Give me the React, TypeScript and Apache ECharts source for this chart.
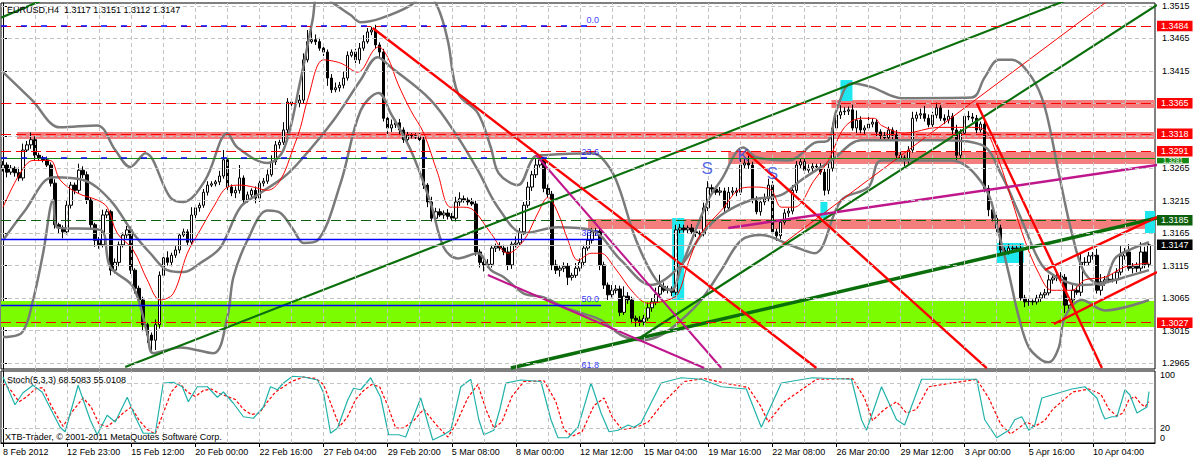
import React, { useEffect, useRef } from "react";
import * as echarts from "echarts";

const FONT = "'Liberation Sans', Arial, sans-serif";
const FS = 9;

const timeLabels = ["8 Feb 2012", "12 Feb 23:00", "15 Feb 12:00", "20 Feb 00:00", "22 Feb 16:00", "27 Feb 04:00", "29 Feb 20:00", "5 Mar 08:00", "8 Mar 00:00", "12 Mar 12:00", "15 Mar 04:00", "19 Mar 16:00", "22 Mar 08:00", "26 Mar 20:00", "29 Mar 12:00", "3 Apr 00:00", "5 Apr 16:00", "10 Apr 04:00"];
const priceTicks = [1.2965, 1.3015, 1.3065, 1.3115, 1.3165, 1.3215, 1.3265, 1.3315, 1.3365, 1.3415, 1.3465, 1.3515];

// prices in 1/10000 units
const firstOpen = 13265;
const closes = [
  13270, 13259, 13265, 13258, 13250, 13293, 13301, 13309, 13285, 13281,
  13278, 13270, 13242, 13178, 13173, 13167, 13208, 13239, 13231, 13262,
  13255, 13216, 13178, 13154, 13147, 13193, 13198, 13108, 13120, 13147,
  13162, 13170, 13108, 13080, 13062, 13024, 13008, 13000, 13024, 13100,
  13127, 13120, 13131, 13139, 13162, 13167, 13151, 13193, 13204, 13208,
  13228, 13239, 13241, 13244, 13253, 13278, 13236, 13227, 13231, 13250,
  13216, 13224, 13231, 13219, 13242, 13245, 13255, 13275, 13301, 13305,
  13324, 13367, 13364, 13365, 13370, 13432, 13460, 13463, 13460, 13450,
  13444, 13404, 13386, 13389, 13393, 13404, 13439, 13444, 13432, 13450,
  13460, 13475, 13478, 13455, 13444, 13342, 13327, 13332, 13335, 13324,
  13309, 13316, 13315, 13313, 13309, 13239, 13213, 13188, 13198, 13193,
  13196, 13191, 13188, 13213, 13218, 13216, 13213, 13210, 13136, 13120,
  13116, 13117, 13142, 13145, 13142, 13136, 13116, 13148, 13150, 13167,
  13208, 13236, 13255, 13270, 13278, 13234, 13225, 13116, 13108, 13111,
  13114, 13097, 13100, 13111, 13120, 13142, 13154, 13167, 13168, 13116,
  13085, 13070, 13077, 13079, 13043, 13068, 13062, 13034, 13031, 13028,
  13034, 13050, 13059, 13071, 13083, 13077, 13079, 13074, 13170, 13173,
  13170, 13173, 13167, 13165, 13164, 13204, 13235, 13233, 13228, 13230,
  13204, 13228, 13230, 13228, 13270, 13273, 13270, 13216, 13198, 13213,
  13218, 13239, 13167, 13161, 13182, 13196, 13199, 13231, 13270, 13275,
  13262, 13265, 13268, 13267, 13259, 13231, 13265, 13327, 13347, 13352,
  13353, 13355, 13327, 13339, 13324, 13327, 13333, 13336, 13321, 13315,
  13312, 13324, 13316, 13285, 13281, 13278, 13293, 13342, 13347, 13349,
  13342, 13332, 13347, 13358, 13342, 13339, 13345, 13324, 13285, 13319,
  13345, 13344, 13342, 13324, 13333, 13234, 13201, 13188, 13173, 13139,
  13136, 13142, 13141, 13142, 13065, 13059, 13060, 13059, 13065, 13070,
  13073, 13093, 13096, 13099, 13097, 13054, 13062, 13077, 13074, 13120,
  13120, 13130, 13131, 13077, 13090, 13093, 13094, 13093, 13105, 13130,
  13136, 13111, 13114, 13111, 13136, 13117, 13147,
];
const upWick = [
  6, 4, 5, 3, 8, 10, 6, 11, 5, 4, 3, 5, 4, 6, 3, 4, 8, 5, 4, 10,
  6, 5, 4, 3, 5, 8, 4, 3, 6, 5, 4, 6, 5, 3, 4, 5, 3, 4, 8, 6,
  5, 10, 4, 6, 3, 5, 4, 12, 5, 4, 5, 6, 4, 3, 8, 15, 5, 4, 6, 20,
  4, 5, 3, 6, 4, 5, 8, 10, 6, 4, 12, 6, 5, 4, 8, 10, 18, 20, 8, 6,
  5, 4, 6, 8, 5, 10, 6, 4, 5, 8, 10, 6, 5, 8, 4, 5, 6, 8, 5, 6,
  4, 5, 3, 4, 6, 5, 3, 8, 6, 5, 4, 6, 5, 8, 10, 5, 4, 6, 5, 4,
  6, 8, 5, 4, 6, 5, 8, 4, 10, 6, 5, 8, 6, 10, 5, 4, 6, 5, 8, 4,
  6, 5, 4, 8, 6, 5, 12, 6, 5, 4, 5, 4, 8, 6, 5, 15, 6, 5, 4, 6,
  5, 8, 6, 10, 18, 6, 5, 4, 8, 6, 5, 4, 6, 5, 4, 8, 10, 5, 4, 6,
  5, 8, 6, 5, 10, 6, 12, 5, 6, 4, 8, 10, 6, 5, 4, 6, 5, 8, 6, 5,
  4, 6, 5, 4, 6, 5, 10, 8, 12, 10, 6, 5, 8, 15, 6, 4, 12, 6, 5, 4,
  6, 5, 4, 8, 5, 4, 6, 10, 5, 8, 12, 6, 5, 8, 4, 6, 10, 5, 8, 6,
  5, 8, 6, 5, 4, 6, 5, 4, 6, 5, 4, 6, 5, 4, 6, 5, 4, 3, 5, 4,
  6, 8, 5, 4, 6, 5, 4, 8, 6, 15, 8, 6, 5, 10, 12, 6, 5, 8, 6, 15,
  6, 12, 5, 6, 15, 8, 4,
];
const dnWick = [
  5, 8, 4, 6, 5, 4, 3, 6, 8, 5, 4, 3, 5, 6, 8, 10, 4, 5, 6, 4,
  5, 6, 8, 10, 6, 4, 5, 8, 5, 6, 4, 5, 6, 8, 5, 10, 12, 20, 15, 6,
  4, 5, 6, 4, 5, 3, 6, 4, 5, 6, 4, 5, 3, 4, 5, 4, 6, 5, 8, 5,
  6, 4, 5, 8, 6, 5, 4, 3, 5, 6, 4, 5, 3, 4, 6, 5, 4, 3, 5, 4,
  6, 12, 5, 4, 6, 5, 4, 3, 5, 6, 4, 3, 5, 6, 8, 5, 12, 6, 5, 8,
  5, 6, 4, 3, 5, 6, 8, 5, 4, 3, 6, 5, 4, 5, 6, 4, 5, 3, 6, 8,
  10, 4, 5, 6, 4, 5, 8, 6, 5, 4, 5, 4, 6, 5, 4, 6, 5, 8, 6, 10,
  6, 12, 5, 4, 5, 6, 4, 5, 6, 8, 6, 8, 4, 5, 6, 4, 6, 8, 10, 6,
  5, 4, 6, 5, 4, 3, 5, 6, 4, 5, 4, 5, 3, 6, 5, 4, 5, 6, 4, 5,
  8, 4, 5, 6, 4, 5, 6, 5, 4, 6, 5, 4, 6, 8, 5, 4, 6, 5, 4, 6,
  5, 4, 6, 5, 4, 8, 6, 5, 4, 6, 5, 6, 4, 8, 5, 6, 4, 5, 8, 6,
  4, 5, 6, 8, 5, 10, 6, 4, 5, 6, 5, 4, 6, 5, 4, 6, 5, 8, 10, 6,
  4, 5, 6, 5, 4, 6, 10, 5, 6, 8, 5, 4, 6, 5, 4, 8, 6, 5, 4, 6,
  5, 4, 6, 5, 8, 12, 6, 5, 4, 6, 5, 4, 6, 5, 8, 6, 5, 4, 6, 5,
  6, 4, 8, 6, 5, 6, 5,
];

// Bollinger bands & moving average, [bar, price/10000]
const bbUpper = [[0, 13413], [7.25, 13370], [14.25, 13328], [23.5, 13331], [28, 13293], [31.75, 13267], [35.5, 13288], [41.75, 13220], [45, 13213], [50.5, 13247], [56, 13319], [58.5, 13297], [66, 13273], [70, 13293], [74.25, 13401], [77.25, 13493], [78.75, 13536], [82.5, 13519], [86.75, 13501], [89.25, 13490], [94.25, 13496], [101.75, 13516], [105.5, 13536], [108.5, 13513], [111, 13462], [113.5, 13381], [118.5, 13350], [121.75, 13297], [123.75, 13257], [128.5, 13239], [132.5, 13282], [135, 13285], [146.75, 13288], [149.25, 13282], [153, 13247], [158, 13154], [163, 13093], [166.75, 13077], [169.25, 13113], [176, 13216], [179.25, 13247], [184.75, 13297], [188, 13282], [196, 13277], [202.5, 13304], [206, 13308], [208, 13354], [211.75, 13396], [216.75, 13390], [224.25, 13373], [241.75, 13374], [245, 13405], [248.5, 13432], [251.75, 13432], [256.75, 13405], [260, 13359], [263.5, 13257], [266.75, 13165], [270, 13103], [274.25, 13085], [277.5, 13126], [281, 13139], [286, 13151]];
const bbMiddle = [[0, 13154], [5.5, 13200], [12.5, 13251], [20, 13247], [26.75, 13216], [32.5, 13165], [36.75, 13134], [41, 13108], [45, 13105], [49.25, 13119], [54.25, 13143], [59.25, 13205], [64.25, 13227], [70, 13251], [74.25, 13277], [82.5, 13339], [89.25, 13401], [93.5, 13436], [96.75, 13421], [106.75, 13370], [113.5, 13313], [118.5, 13262], [123.5, 13205], [130, 13165], [138.5, 13174], [146.75, 13170], [154.25, 13123], [161.75, 13085], [169.25, 13116], [174.25, 13162], [179.25, 13193], [186.75, 13216], [194.25, 13224], [199.25, 13247], [206.75, 13277], [214.25, 13308], [224.25, 13308], [234.25, 13308], [244.25, 13301], [249.25, 13254], [254.25, 13185], [259.25, 13116], [264.25, 13093], [269.25, 13085], [274.25, 13088], [279.25, 13096], [286, 13108]];
const bbLower = [[0, 13005], [4.75, 13012], [7.5, 13062], [10, 13134], [12.5, 13216], [13.5, 13174], [24.25, 13170], [26.75, 13113], [32.5, 13082], [36, 13011], [37.5, 12980], [44.25, 12989], [52.5, 12980], [56, 13036], [57.5, 13097], [61, 13154], [66, 13200], [69.25, 13196], [72.5, 13170], [75, 13150], [78.5, 13154], [84.25, 13242], [89.25, 13354], [93.75, 13381], [96.75, 13350], [101.75, 13293], [106.75, 13211], [110, 13143], [113.5, 13126], [118.5, 13134], [121.75, 13108], [125, 13097], [130, 13072], [135, 13066], [140, 13051], [144.25, 13042], [149.25, 13031], [154.25, 13008], [159.25, 13000], [164.25, 13008], [169.25, 13031], [174.25, 13062], [179.25, 13108], [184.25, 13154], [189.25, 13162], [196.75, 13146], [202.5, 13134], [209.25, 13216], [216, 13236], [219.25, 13277], [236.75, 13277], [245, 13236], [248.5, 13165], [251, 13103], [253.5, 13036], [256, 12989], [259.25, 12969], [261, 12966], [263.5, 12989], [265, 13036], [269.25, 13062], [275, 13046], [286, 13062]];
const maLine = [[0, 13205], [4.25, 13257], [7.5, 13277], [11.75, 13277], [14.25, 13247], [18.5, 13227], [23.5, 13216], [26, 13205], [28.5, 13165], [32.5, 13139], [36, 13093], [39.25, 13062], [42.5, 13072], [46, 13134], [49.25, 13170], [52.5, 13205], [56, 13236], [59.25, 13239], [62.5, 13236], [66, 13231], [69.25, 13247], [72.5, 13297], [74.25, 13328], [76, 13370], [80, 13432], [84.25, 13427], [88.5, 13413], [92.5, 13447], [93.75, 13452], [96, 13436], [98.5, 13396], [101.75, 13354], [105, 13319], [108.5, 13257], [111.75, 13205], [115, 13205], [117.5, 13200], [121.75, 13165], [126, 13134], [130, 13154], [133.5, 13196], [136, 13220], [138.5, 13196], [141, 13154], [143.5, 13123], [146.75, 13134], [149.25, 13134], [152.5, 13113], [157.5, 13072], [161, 13057], [166, 13062], [168.5, 13072], [171, 13119], [174.25, 13165], [179.25, 13200], [184.25, 13234], [187.5, 13236], [191.75, 13231], [194.25, 13205], [197.5, 13205], [202.5, 13247], [206, 13277], [210, 13328], [214.25, 13342], [217.5, 13342], [219.25, 13331], [225, 13319], [233.5, 13328], [241.75, 13328], [245, 13324], [248.5, 13277], [251.75, 13216], [255, 13154], [258.5, 13103], [261.75, 13077], [266.75, 13077], [270, 13093], [275, 13097], [280, 13113], [286, 13119]];

// Horizontal levels, zones and drawn objects (prices)
const levelPrices = [1.3484, 1.3365, 1.3318, 1.3281, 1.3291, 1.3185, 1.3147, 1.3027];
const pinkZones = [[206.75, 1.33701, 1.33578], [3.5, 1.33208, 1.331], [181, 1.329, 1.32715], [146, 1.31868, 1.31714]];
const greenZone = [-0.5, 287.25, 1.30604, 1.30204];
const cyanBoxes = [[167, 170, 1.31883, 1.3062], [209, 212, 1.34009, 1.33686], [204, 205.75, 1.3213, 1.31883], [248, 254.75, 1.31498, 1.3119], [285, 288, 1.31991, 1.31652]];
const fibHigh = 1.3484;
const fibLow = 1.2624;
const fibEnd = 149.25;
const fibLevels = [0, 23.6, 38.2, 50.0, 61.8];
const greenLines = [[[30.5, 1.29587], [268.75, 1.35319]], [[-0.5, 1.3497], [10.5, 1.35257]], [[126.75, 1.29572], [288, 1.31883]], [[159.25, 1.3005], [288, 1.35165]]];
const redLines = [[[92.25, 1.34811], [203, 1.29572]], [[185.5, 1.329], [245.5, 1.29572]], [[243, 1.33655], [274.25, 1.29572]], [[260, 1.31082], [288, 1.31898]], [[262.25, 1.3025], [288, 1.31051]], [[194.25, 1.31467], [275, 1.35196]]];
const magentaLines = [[[133, 1.32854], [179.25, 1.29572]], [[121, 1.31005], [175, 1.29572]], [[181, 1.31729], [288, 1.327]]];
const waveMarks = [[175.75, 1.32653, "S"], [184.75, 1.32854, "K"], [192, 1.32576, "S"]];

// Stochastic (5,3,3): [bar, value]
const stochK = [[0, 88], [3, 51], [5, 67], [7.5, 77], [9.75, 68], [14.25, 21], [15.5, 15], [18.75, 77], [21.75, 31], [23.5, 11], [26, 37], [28, 28], [31, 61], [33, 35], [35, 13], [38, 13], [40, 80], [42.5, 81], [44.75, 75], [46.25, 55], [48.5, 75], [51, 75], [53.5, 61], [55, 68], [57.5, 53], [60, 35], [62.5, 33], [65, 48], [66.75, 75], [68.5, 71], [70, 80], [72.25, 89], [75, 88], [78.5, 84], [80, 67], [81.75, 13], [83.5, 20], [86, 57], [87.5, 73], [89.25, 71], [91.75, 87], [94.25, 61], [96.25, 11], [98.75, 11], [100.5, 8], [104.25, 60], [107.25, 4], [110, 11], [111.75, 17], [114.25, 75], [116.75, 85], [118.75, 31], [120, 11], [122.5, 17], [124, 45], [125.5, 80], [129.25, 84], [134.25, 82], [136.75, 31], [138.5, 7], [141, 7], [143.5, 21], [146.75, 80], [149.25, 40], [151.25, 15], [153.5, 17], [156, 24], [157.5, 21], [159.25, 27], [164.25, 80], [169.25, 87], [174.25, 85], [179.25, 75], [185.5, 72], [188.5, 31], [189.25, 21], [194.25, 80], [202, 87], [211.75, 85], [214.25, 31], [215.5, 17], [219.25, 75], [223, 31], [225, 24], [229.25, 85], [243, 85], [245, 31], [248, 7], [251, 17], [252.5, 31], [254.25, 35], [256, 17], [257.5, 24], [259.25, 60], [266.75, 72], [270, 75], [273, 60], [274.25, 41], [275, 32], [276.75, 35], [278, 35], [279.25, 57], [280, 71], [281.25, 64], [283, 40], [284.25, 44], [285.5, 48], [286, 68.5083]];
const stochD = [[0, 80], [2, 70], [4, 55], [6, 62], [8, 72], [10, 74], [12, 50], [15, 22], [17, 40], [20, 60], [22, 48], [24, 25], [26, 22], [28, 30], [30, 40], [32, 48], [34, 30], [36, 18], [38, 12], [40, 40], [42, 68], [44, 80], [46, 68], [48, 62], [50, 70], [52, 72], [54, 66], [56, 62], [58, 58], [60, 45], [62, 38], [64, 40], [66, 55], [68, 68], [70, 75], [72, 82], [75, 88], [78, 86], [80, 78], [82, 50], [84, 22], [86, 35], [88, 58], [90, 70], [92, 78], [94, 75], [96, 50], [98, 20], [100, 20], [102.5, 30], [105, 45], [108, 25], [111, 8], [113, 25], [116, 60], [118.5, 78], [120.5, 45], [122.5, 20], [124.5, 28], [127, 62], [130, 82], [135, 83], [138, 55], [140, 18], [142, 9], [144.5, 15], [147.5, 50], [150, 60], [152, 35], [154.5, 18], [157, 20], [159, 23], [161, 28], [165, 55], [170, 82], [175, 86], [180, 80], [186, 74], [189, 50], [191, 28], [195, 55], [203, 85], [212, 86], [215, 60], [217, 30], [220, 45], [223, 55], [225.5, 40], [228, 45], [231, 75], [243, 85], [246, 60], [249, 25], [251.5, 12], [253.5, 20], [255.5, 28], [257.5, 22], [260, 30], [262, 45], [267, 68], [271, 72], [274, 65], [276, 45], [278, 36], [279.5, 40], [281, 58], [282.5, 62], [284, 52], [285, 48], [286, 55.0108]];
const stochLevels = [20, 80];
const stochTickLabels = [0, 20, 80, 100];

const NCAT = 288;
const Y_MIN = 1.29557;
const Y_MAX = 1.35196;
const S_MAX = 96;

const px = (v: number) => v / 10000;
const toPts = (arr: number[][]) => arr.map(([i, v]) => [i, px(v)]);

export default function App() {
  const ref = useRef<HTMLDivElement>(null);
  useEffect(() => {
    document.body.style.margin = "0";
    const chart = echarts.init(ref.current!, null, { renderer: "svg" });

    const categories = Array.from({ length: NCAT }, (_, i) => (i % 16 === 0 && timeLabels[i / 16]) ? timeLabels[i / 16] : "");
    const candles = closes.map((c, i) => {
      const o = i === 0 ? firstOpen : closes[i - 1];
      const hi = Math.max(o, c) + upWick[i];
      const lo = Math.min(o, c) - dnWick[i];
      return [px(o), px(c), px(lo), px(hi)];
    });
    const last = candles[candles.length - 1];
    const lastK = stochK[stochK.length - 1][1];
    const lastD = stochD[stochD.length - 1][1];

    const gridLineStyle = { color: "#c4c4c4", type: [4, 3], width: 1 };
    const verticals = [];
    for (let k = 8; k < NCAT; k += 8) verticals.push({ xAxis: k });

    const levelStyles = [
      { c: "#ff0000", t: [10, 5], bg: "#ff0000" },
      { c: "#ff0000", t: [10, 5], bg: "#ff0000" },
      { c: "#ff0000", t: [10, 5], bg: "#ff0000" },
      { c: "#118811", t: "solid", bg: "#118811" },
      { c: "#ff0000", t: [10, 5], bg: "#ff0000" },
      { c: "#0d600d", t: [10, 5], bg: "#0d600d" },
      { c: "#b4b4b4", t: "solid", bg: "#000000" },
      { c: "#ff0000", t: [10, 5], bg: "#ff0000" },
    ];

    const fibPrice = (l: number) => fibHigh - (fibHigh - fibLow) * l / 100;

    const lineSeries = (pts: number[][], color: string, width: number, z: number) => ({
      type: "line", xAxisIndex: 1, yAxisIndex: 0, data: pts, symbol: "none", silent: true,
      lineStyle: { color, width }, z, animation: false,
    });
    const txt = { fontSize: FS, color: "#000", fontFamily: FONT };

    const levelLabel = (p: number, k: number) => {
      const base: any = {
        show: true, position: "end", distance: 2, formatter: p.toFixed(4),
        backgroundColor: levelStyles[k].bg, color: "#ffffff", fontFamily: FONT,
      };
      if (k === 3) {
        // the 1.3281 tag peeks out just below the 1.3291 tag
        return { ...base, fontSize: 6.5, lineHeight: 5.5, padding: [0, 6, 0, 6], verticalAlign: "top" };
      }
      return { ...base, fontSize: FS, lineHeight: 9.5, padding: [1, 4, 0, 4] };
    };

    const series: any[] = [
      {
        type: "line", xAxisIndex: 1, yAxisIndex: 0, data: [], z: 0, silent: true,
        markLine: {
          silent: true, symbol: ["none", "none"], animation: false, label: { show: false }, precision: 6,
          lineStyle: gridLineStyle,
          data: [...priceTicks.map((v) => ({ yAxis: v })), ...verticals],
        },
      },
      {
        type: "line", xAxisIndex: 1, yAxisIndex: 0, data: [], z: 1, silent: true,
        markArea: {
          silent: true, animation: false,
          data: [
            [{ xAxis: greenZone[0], yAxis: greenZone[2], itemStyle: { color: "#7cfc00", opacity: 1 } }, { xAxis: greenZone[1], yAxis: greenZone[3] }],
            ...pinkZones.map((z) => [{ xAxis: z[0], yAxis: z[1], itemStyle: { color: "#f47e7e", opacity: 1 } }, { xAxis: 287.5, yAxis: z[2] }]),
            ...cyanBoxes.map((b) => [{ xAxis: b[0], yAxis: b[2], itemStyle: { color: "#1ee8ee", opacity: 1 } }, { xAxis: b[1], yAxis: b[3] }]),
          ],
        },
      },
      {
        type: "candlestick", xAxisIndex: 0, yAxisIndex: 0, data: candles, barWidth: 3, z: 2, silent: true,
        itemStyle: { color: "#ffffff", color0: "#000000", borderColor: "#000000", borderColor0: "#000000", borderWidth: 1 },
      },
      { ...lineSeries(toPts(bbUpper), "#7a7a7a", 2.5, 3), smooth: 0.35 },
      { ...lineSeries(toPts(bbMiddle), "#7a7a7a", 2.5, 3), smooth: 0.35 },
      { ...lineSeries(toPts(bbLower), "#7a7a7a", 2.5, 3), smooth: 0.35 },
      { ...lineSeries(toPts(maLine), "#ff0000", 1, 3), smooth: 0.35 },
      {
        type: "line", xAxisIndex: 1, yAxisIndex: 0, data: [], z: 4, silent: true,
        markLine: {
          silent: true, symbol: ["none", "none"], animation: false, precision: 6,
          data: levelPrices.map((p, k) => ({
            yAxis: p,
            lineStyle: { color: levelStyles[k].c, type: levelStyles[k].t, width: 1.2 },
            label: levelLabel(p, k),
          })),
        },
      },
      {
        type: "line", xAxisIndex: 1, yAxisIndex: 0, data: [], z: 4, silent: true,
        markLine: {
          silent: true, symbol: ["none", "none"], animation: false, label: { show: false }, precision: 6,
          data: fibLevels.map((l, k) => [
            { coord: [-0.5, fibPrice(l)], lineStyle: { color: "#0000ff", width: k < 2 ? 1.5 : 1.3, type: k < 2 ? [6, 14] : "solid" } },
            { coord: [fibEnd, fibPrice(l)] },
          ]),
        },
      },
      {
        type: "scatter", xAxisIndex: 1, yAxisIndex: 0, z: 5, silent: true, clip: false, symbolSize: 2,
        itemStyle: { color: "rgba(0,0,0,0)" },
        data: fibLevels.map((l) => [fibEnd, fibPrice(l), l.toFixed(1)]),
        label: { show: true, position: "left", distance: 1, offset: [0, -6], color: "#0000ff", fontSize: FS, fontFamily: FONT, formatter: (p: any) => p.data[2] },
      },
      ...greenLines.map((l, k) => lineSeries(l, "#0a6e0a", k === 2 ? 3.5 : 2.2, 4)),
      ...redLines.map((l, k) => lineSeries(l, "#ff0000", k === 5 ? 1 : 2.4, 4)),
      ...magentaLines.map((l, k) => lineSeries(l, "#c0168c", k === 2 ? 2.5 : 2, 4)),
      {
        type: "scatter", xAxisIndex: 1, yAxisIndex: 0, z: 5, silent: true, symbolSize: 2,
        itemStyle: { color: "rgba(0,0,0,0)" },
        data: waveMarks,
        label: { show: true, position: "inside", color: "#2a44dd", fontSize: 17, fontFamily: FONT, formatter: (p: any) => p.data[2] },
      },
      {
        type: "line", xAxisIndex: 3, yAxisIndex: 1, data: [], z: 0, silent: true,
        markLine: {
          silent: true, symbol: ["none", "none"], animation: false, label: { show: false },
          lineStyle: gridLineStyle,
          data: [...stochLevels.map((v) => ({ yAxis: v })), ...verticals],
        },
      },
      {
        type: "line", xAxisIndex: 3, yAxisIndex: 1, data: stochD, symbol: "none", silent: true, z: 3,
        lineStyle: { color: "#ff0000", width: 1.2, type: [3, 2] },
      },
      {
        type: "line", xAxisIndex: 3, yAxisIndex: 1, data: stochK, symbol: "none", silent: true, z: 4,
        lineStyle: { color: "#20b2aa", width: 1.2 },
      },
    ];

    const sLabelVals = [0.5, 20, 80, S_MAX - 0.5];
    const option: any = {
      animation: false,
      backgroundColor: "#ffffff",
      textStyle: { fontFamily: FONT },
      title: [
        { text: `EURUSD,H4  ${last[0].toFixed(4)} ${last[3].toFixed(4)} ${last[2].toFixed(4)} ${last[1].toFixed(4)}`, left: 7, top: 5, padding: 0, textStyle: { ...txt, fontWeight: "normal" } },
        { text: `Stoch(5,3,3) ${lastK.toFixed(4)} ${lastD.toFixed(4)}`, left: 7, top: 375, padding: 0, textStyle: { ...txt, fontWeight: "normal" } },
        { text: "XTB-Trader, © 2001-2011 MetaQuotes Software Corp.", left: 5, top: 432, padding: 0, textStyle: { ...txt, fontWeight: "normal" } },
      ],
      grid: [
        { left: 1, top: 3, width: 1154, height: 366, show: true, borderColor: "#000", borderWidth: 1, backgroundColor: "transparent" },
        { left: 1, top: 371, width: 1154, height: 72, show: true, borderColor: "#000", borderWidth: 1, backgroundColor: "transparent" },
      ],
      xAxis: [
        { type: "category", gridIndex: 0, data: categories, show: false, boundaryGap: true },
        { type: "value", gridIndex: 0, min: -0.5, max: NCAT - 0.5, show: false },
        {
          type: "category", gridIndex: 1, data: categories, boundaryGap: true,
          axisLine: { show: true, lineStyle: { color: "#000" } },
          axisTick: { show: true, alignWithLabel: true, interval: (i: number) => i % 16 === 0, length: 4, lineStyle: { color: "#000" } },
          axisLabel: { interval: (i: number) => i % 16 === 0, align: "left", margin: 4, ...txt },
          splitLine: { show: false },
        },
        { type: "value", gridIndex: 1, min: -0.5, max: NCAT - 0.5, show: false },
      ],
      yAxis: [
        {
          type: "value", gridIndex: 0, position: "right", min: Y_MIN, max: Y_MAX, scale: true,
          splitLine: { show: false },
          axisLine: { show: true, lineStyle: { color: "#000" } },
          axisTick: { show: true, customValues: priceTicks, length: 4, lineStyle: { color: "#000" } },
          axisLabel: { customValues: priceTicks, formatter: (v: number) => v.toFixed(4), margin: 7, ...txt },
        },
        {
          type: "value", gridIndex: 1, position: "right", min: 0, max: S_MAX,
          splitLine: { show: false },
          axisLine: { show: true, lineStyle: { color: "#000" } },
          axisTick: { show: true, customValues: [20, 80], length: 4, lineStyle: { color: "#000" } },
          axisLabel: {
            customValues: sLabelVals, margin: 5, ...txt,
            showMinLabel: true, showMaxLabel: true,
            formatter: (v: number) => {
              const k = sLabelVals.indexOf(v);
              const t = String(stochTickLabels[k]);
              return k === 3 ? `{t|${t}}` : k === 0 ? `{b|${t}}` : t;
            },
            rich: {
              t: { padding: [8, 0, 0, 0], ...txt },
              b: { padding: [0, 0, 10, 0], ...txt },
            },
          },
        },
      ],
      series,
    };
    chart.setOption(option);
    return () => chart.dispose();
  }, []);
  return <div ref={ref} style={{ width: 1194, height: 461 }} />;
}
